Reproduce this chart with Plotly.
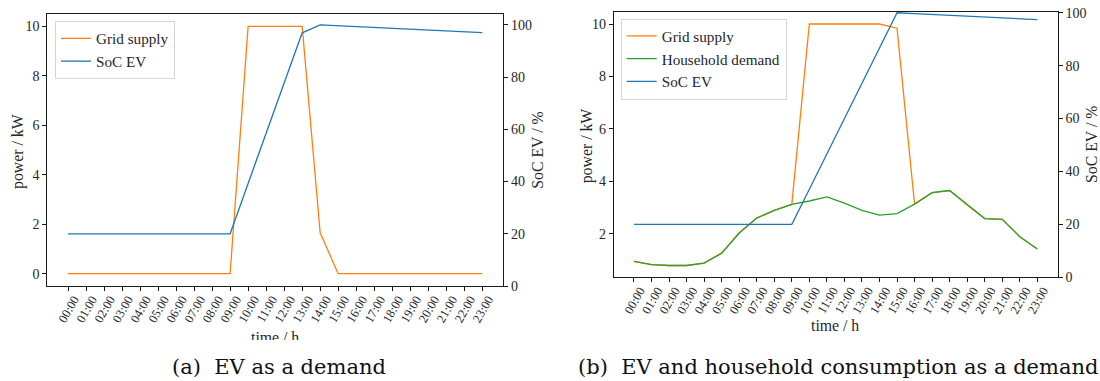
import plotly.graph_objects as go

# ---------------- data ----------------
times = ["00:00", "01:00", "02:00", "03:00", "04:00", "05:00", "06:00", "07:00",
         "08:00", "09:00", "10:00", "11:00", "12:00", "13:00", "14:00", "15:00",
         "16:00", "17:00", "18:00", "19:00", "20:00", "21:00", "22:00", "23:00"]

# (a) EV as a demand
grid_a = [0, 0, 0, 0, 0, 0, 0, 0, 0, 0, 10, 10, 10, 10, 1.65, 0,
          0, 0, 0, 0, 0, 0, 0, 0]
soc_a = [20, 20, 20, 20, 20, 20, 20, 20, 20, 20, 39.3, 58.5, 77.8, 97.0,
         100.0, 99.7, 99.3, 99.0, 98.7, 98.3, 98.0, 97.7, 97.4, 97.1]

# (b) EV and household consumption as a demand
household_b = [0.95, 0.82, 0.79, 0.79, 0.88, 1.26, 2.03, 2.60, 2.89, 3.12,
               3.25, 3.41, 3.17, 2.89, 2.71, 2.77, 3.13, 3.57, 3.65, 3.10,
               2.58, 2.55, 1.89, 1.42]
grid_b = [0.95, 0.82, 0.79, 0.79, 0.88, 1.26, 2.03, 2.60, 2.89, 3.12,
          10, 10, 10, 10, 10, 9.84, 3.13, 3.57, 3.65, 3.10,
          2.58, 2.55, 1.89, 1.42]
soc_b = [20, 20, 20, 20, 20, 20, 20, 20, 20, 20, 33.3, 46.7, 60.0, 73.3,
         86.7, 100.0, 99.7, 99.4, 99.0, 98.7, 98.4, 98.1, 97.7, 97.4]

yticks_power_a = [0, 2, 4, 6, 8, 10]
yticks_power_b = [2, 4, 6, 8, 10]
yticks_soc = [0, 20, 40, 60, 80, 100]

ORANGE = "#ff7f0e"
GREEN = "#2ca02c"
BLUE = "#1f77b4"
FONT = "Liberation Serif"
CAPFONT = "DejaVu Serif"
TXT = "#262626"
W, H = 1100, 381

fig = go.Figure()

fig.add_trace(go.Scatter(x=times, y=grid_a, mode="lines", name="Grid supply",
                         line=dict(color=ORANGE, width=1.3), xaxis="x", yaxis="y",
                         legend="legend"))
fig.add_trace(go.Scatter(x=times, y=soc_a, mode="lines", name="SoC EV",
                         line=dict(color=BLUE, width=1.3), xaxis="x", yaxis="y2",
                         legend="legend"))

fig.add_trace(go.Scatter(x=times, y=grid_b, mode="lines", name="Grid supply",
                         line=dict(color=ORANGE, width=1.3), xaxis="x2", yaxis="y3",
                         legend="legend2"))
fig.add_trace(go.Scatter(x=times, y=household_b, mode="lines", name="Household demand",
                         line=dict(color=GREEN, width=1.3), xaxis="x2", yaxis="y3",
                         legend="legend2"))
fig.add_trace(go.Scatter(x=times, y=soc_b, mode="lines", name="SoC EV",
                         line=dict(color=BLUE, width=1.3), xaxis="x2", yaxis="y4",
                         legend="legend2"))

def px_x(v):
    return v / W

def px_y(v):
    return 1 - v / H

axis_common = dict(showgrid=False, zeroline=False, showline=True, linecolor="#1a1a1a",
                   linewidth=1.2, ticks="outside", ticklen=4, tickwidth=1,
                   tickcolor="#1a1a1a", automargin=False,
                   tickfont=dict(family=FONT, size=14, color=TXT))

xaxis_extra = dict(type="category", range=[-1.15, 24.15], tickangle=-60, mirror=True,
                   ticklabelshift=6, ticklabelstandoff=-4,
                   tickfont=dict(family=FONT, size=12.5, color=TXT))

# panel (a)
xa_dom = [px_x(47.3), px_x(503)]
ya_dom = [px_y(286), px_y(14)]
# panel (b)
xb_dom = [px_x(613.8), px_x(1057.5)]
yb_dom = [px_y(277.3), px_y(11.7)]

legend_common = dict(xanchor="left", yanchor="top", bgcolor="white",
                     bordercolor="#d5d5d5", borderwidth=1, tracegroupgap=0,
                     font=dict(family=FONT, size=15.2, color=TXT))

fig.update_layout(
    width=W, height=H, autosize=False,
    margin=dict(l=0, r=0, t=0, b=0, autoexpand=False),
    paper_bgcolor="white", plot_bgcolor="white",
    font=dict(family=FONT, color=TXT),
    xaxis={**axis_common, **xaxis_extra, "domain": xa_dom, "anchor": "y"},
    yaxis=dict(axis_common, domain=ya_dom, anchor="x", range=[-0.5, 10.5],
               tickvals=yticks_power_a),
    yaxis2=dict(axis_common, overlaying="y", side="right", anchor="x",
                range=[0, 104.2], tickvals=yticks_soc),
    xaxis2={**axis_common, **xaxis_extra, "domain": xb_dom, "anchor": "y3"},
    yaxis3=dict(axis_common, domain=yb_dom, anchor="x2", range=[0.34, 10.47],
                tickvals=yticks_power_b),
    yaxis4=dict(axis_common, overlaying="y3", side="right", anchor="x2",
                range=[0, 100.4], tickvals=yticks_soc),
    legend=dict(legend_common, x=px_x(55), y=px_y(21)),
    legend2=dict(legend_common, x=px_x(620.7), y=px_y(18.5)),
    showlegend=True,
)

ann = []
# axis titles
ann.append(dict(text="power / kW", x=px_x(18.5), y=px_y(151.5), textangle=-90,
                font=dict(size=15.8)))
ann.append(dict(text="SoC EV / %", x=px_x(538), y=px_y(150.7), textangle=-90,
                font=dict(size=15.8)))
ann.append(dict(text="time / h", x=px_x(275), y=px_y(327), yanchor="top",
                height=11, valign="top", font=dict(size=15.8)))
ann.append(dict(text="power / kW", x=px_x(587), y=px_y(146.3), textangle=-90,
                font=dict(size=15.8)))
ann.append(dict(text="SoC EV / %", x=px_x(1091), y=px_y(145), textangle=-90,
                font=dict(size=15.8)))
ann.append(dict(text="time / h", x=px_x(835), y=px_y(325.5), font=dict(size=15.8)))
# captions
ann.append(dict(text="(a)  EV as a demand", x=px_x(278.6), y=px_y(367),
                font=dict(size=21, color="#111", family=CAPFONT)))
ann.append(dict(text="(b)  EV and household consumption as a demand", x=px_x(576),
                y=px_y(367), xanchor="left",
                font=dict(size=21, color="#111", family=CAPFONT)))

for a in ann:
    a.setdefault("xref", "paper")
    a.setdefault("yref", "paper")
    a.setdefault("showarrow", False)
    a.setdefault("xanchor", "center")
    a.setdefault("yanchor", "middle")
    f = a["font"]
    a["font"] = dict(family=f.get("family", FONT), color=f.get("color", TXT), size=f["size"])

fig.update_layout(annotations=ann)

fig.write_html("out.html")
